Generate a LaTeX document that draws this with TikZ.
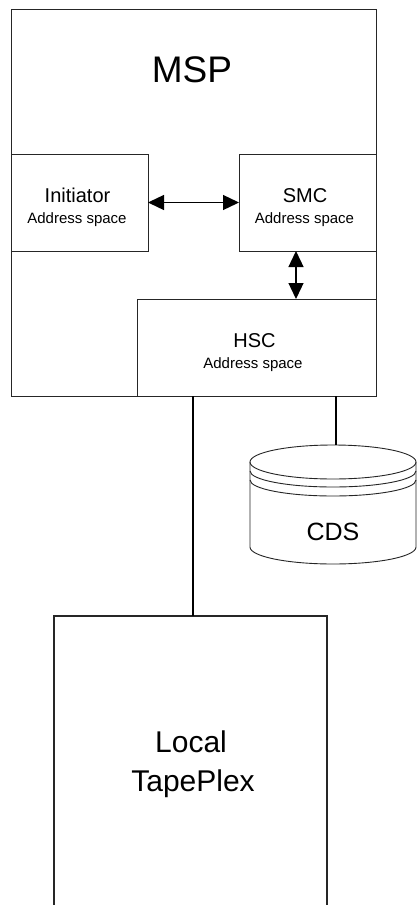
\documentclass[tikz,border=0pt]{standalone}
\usepackage{fontspec}
\setmainfont{Liberation Sans}
\usetikzlibrary{arrows.meta}
\begin{document}
\begin{tikzpicture}[x=1pt,y=-1pt,
  box/.style={draw=black!85,line width=1pt,rectangle,inner sep=0pt,outer sep=0pt},
  bigbox/.style={draw=black!85,line width=1.4pt,rectangle,inner sep=0pt,outer sep=0pt},
  lbl/.style={anchor=base,inner sep=0pt},
  link/.style={line width=2.4pt,black},
  dbl/.style={line width=1.3pt,{Triangle[length=16pt,width=15pt]}-{Triangle[length=16pt,width=15pt]}},
  cyl/.style={draw=black!85,line width=0.9pt}]
\useasboundingbox (0,0) rectangle (417,905);
\clip (0,0) rectangle (417,905);
\fill[white] (0,0) rectangle (417,905);
% MSP outer box
\node[box,minimum width=365pt,minimum height=387pt] (msp) at (193.5,202.5) {};
\node[lbl,font=\fontsize{37}{40}\selectfont] (msplbl) at (192,82) {MSP};
% Initiator
\node[box,minimum width=137pt,minimum height=97pt] (init) at (79.5,202.5) {};
\node[lbl,font=\fontsize{20}{22}\selectfont] (initlbl) at (77.5,202) {Initiator};
\node[lbl,font=\fontsize{15}{17}\selectfont] (initsub) at (77,223) {Address space};
% SMC
\node[box,minimum width=137pt,minimum height=97pt] (smc) at (307.5,202.5) {};
\node[lbl,font=\fontsize{20}{22}\selectfont] (smclbl) at (305,202) {SMC};
\node[lbl,font=\fontsize{15}{17}\selectfont] (smcsub) at (304.5,223) {Address space};
% HSC
\node[box,minimum width=239pt,minimum height=97pt] (hsc) at (256.5,347.5) {};
\node[lbl,font=\fontsize{20}{22}\selectfont] (hsclbl) at (254.5,347) {HSC};
\node[lbl,font=\fontsize{15}{17}\selectfont] (hscsub) at (253,368) {Address space};
% arrows
\draw[dbl] (init.east) -- (smc.west);
\draw[dbl] ([xshift=-11.5pt]smc.south) -- ([xshift=-11.5pt]smc.south |- hsc.north);
% CDS cylinder
\coordinate (cdstop) at (336,445);
\draw[cyl,fill=white] (250,462) -- (250,547) arc[start angle=180,end angle=0,x radius=83,y radius=17] -- (416,462);
\draw[cyl] (333,462) ellipse[x radius=83,y radius=17];
\draw[cyl] (250,471) arc[start angle=180,end angle=0,x radius=83,y radius=16];
\draw[cyl] (250,480) arc[start angle=180,end angle=0,x radius=83,y radius=16];
\node[lbl,font=\fontsize{25}{28}\selectfont] (cds) at (333,540) {CDS};
% Local TapePlex
\node[bigbox,minimum width=273pt,minimum height=320pt] (tp) at (190.5,776) {};
\node[lbl,font=\fontsize{30}{33}\selectfont] (tpl1) at (191,752) {Local};
\node[lbl,font=\fontsize{30}{33}\selectfont] (tpl2) at (193,791) {TapePlex};
% links
\draw[link] ([xshift=-63.5pt]hsc.south) -- ([xshift=-63.5pt]hsc.south |- tp.north);
\draw[link] ([xshift=79.5pt]hsc.south) -- ([xshift=79.5pt]hsc.south |- cdstop);
\end{tikzpicture}
\end{document}
